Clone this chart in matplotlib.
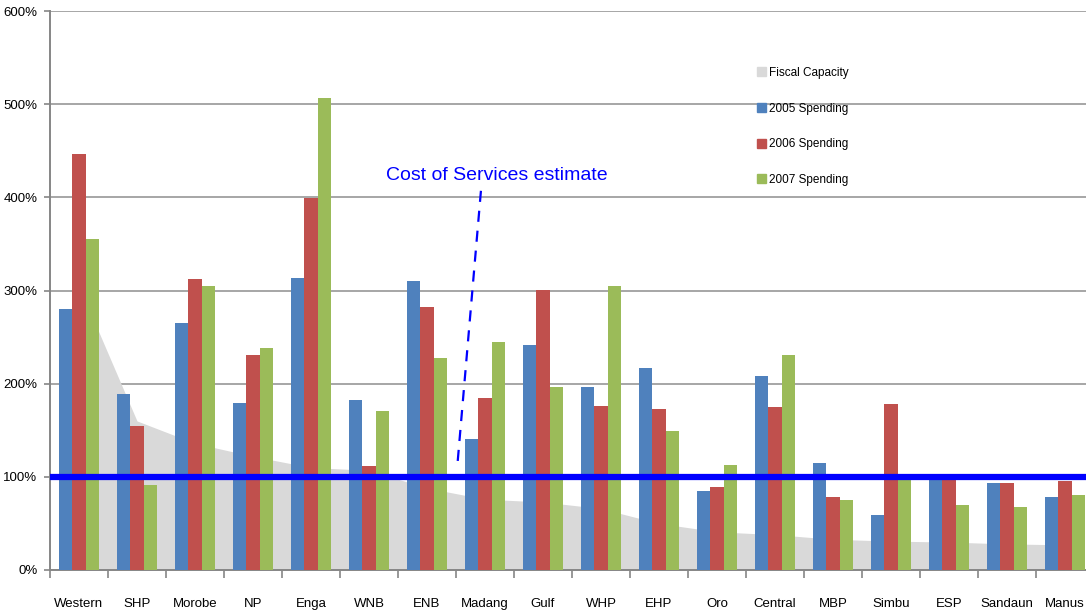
import numpy as np
import matplotlib
matplotlib.use("Agg")
import matplotlib.pyplot as plt
from matplotlib.patches import Patch
from matplotlib.ticker import FuncFormatter, MultipleLocator

plt.rcParams['font.family'] = ['Liberation Sans', 'DejaVu Sans']

provinces = ["Western", "SHP", "Morobe", "NP", "Enga", "WNB", "ENB", "Madang", "Gulf",
             "WHP", "EHP", "Oro", "Central", "MBP", "Simbu", "ESP", "Sandaun", "Manus"]

# spending as a share of the cost of services estimate (1.0 = 100%)
fiscal_capacity = [3.05, 1.60, 1.36, 1.22, 1.10, 1.07, 0.88, 0.76, 0.73,
                   0.66, 0.50, 0.41, 0.38, 0.33, 0.31, 0.30, 0.28, 0.27]
spend_2005 = [2.80, 1.89, 2.65, 1.79, 3.13, 1.83, 3.10, 1.41, 2.41,
              1.96, 2.17, 0.85, 2.08, 1.15, 0.59, 1.00, 0.93, 0.78]
spend_2006 = [4.47, 1.55, 3.12, 2.31, 3.99, 1.12, 2.82, 1.85, 3.01,
              1.76, 1.73, 0.89, 1.75, 0.78, 1.78, 1.00, 0.93, 0.95]
spend_2007 = [3.55, 0.91, 3.05, 2.38, 5.07, 1.71, 2.28, 2.45, 1.96,
              3.05, 1.49, 1.13, 2.31, 0.75, 0.99, 0.70, 0.68, 0.81]
cost_of_services = 1.0

c_fiscal = "#d9d9d9"
c_2005 = "#4f81bd"
c_2006 = "#c0504d"
c_2007 = "#9bbb59"

fig = plt.figure(figsize=(10.86, 6.15), dpi=100)
ax = fig.add_axes([50 / 1086, 45 / 615, 1044 / 1086, 559 / 615])

x = np.arange(len(provinces))
w = 0.235

ax.fill_between(x, 0, fiscal_capacity, color=c_fiscal, lw=0, zorder=1)
ax.bar(x - w, spend_2005, w, color=c_2005, zorder=3)
ax.bar(x, spend_2006, w, color=c_2006, zorder=3)
ax.bar(x + w, spend_2007, w, color=c_2007, zorder=3)

ax.axhline(cost_of_services, color="#0000ff", lw=4.5, zorder=4)

# annotation pointing at the cost line
ax.plot([6.93, 6.52], [4.07, 1.10], color="#0000ff", lw=1.6, dashes=(5, 4), zorder=5)
ax.text(5.29, 4.23, "Cost of Services estimate", color="#0000ff", fontsize=14,
        ha="left", va="center", zorder=5)

ax.set_xlim(-0.5, len(provinces) - 0.5)
ax.set_ylim(0, 6)
ax.yaxis.set_major_locator(MultipleLocator(1))
ax.yaxis.set_major_formatter(FuncFormatter(lambda v, p: f"{v * 100:.0f}%"))
ax.grid(axis="y", color="#a6a6a6", lw=1.4, zorder=0)
ax.set_axisbelow(True)

ax.set_xticks(x)
ax.set_xticklabels(provinces)
ax.set_xticks(np.arange(len(provinces) + 1) - 0.5, minor=True)
ax.tick_params(axis="x", which="major", length=0, pad=20, labelsize=9.5)
ax.tick_params(axis="x", which="minor", length=6, color="#868686", width=1.2)
ax.tick_params(axis="y", length=4, color="#868686", width=1.2, pad=5, labelsize=9.5)

for side in ("top", "right"):
    ax.spines[side].set_visible(False)
for side in ("left", "bottom"):
    ax.spines[side].set_color("#868686")
    ax.spines[side].set_linewidth(1.4)

handles = [Patch(color=c_fiscal), Patch(color=c_2005), Patch(color=c_2006), Patch(color=c_2007)]
labels = ["Fiscal Capacity", "2005 Spending", "2006 Spending", "2007 Spending"]
ax.legend(handles, labels, loc="upper left", bbox_to_anchor=(757 / 1086, 548 / 615),
          bbox_transform=fig.transFigure, frameon=False, fontsize=8.5,
          handlelength=0.75, handleheight=0.8, handletextpad=0.3,
          labelspacing=2.0, borderpad=0, borderaxespad=0)

fig.savefig("out.png", dpi=100)
